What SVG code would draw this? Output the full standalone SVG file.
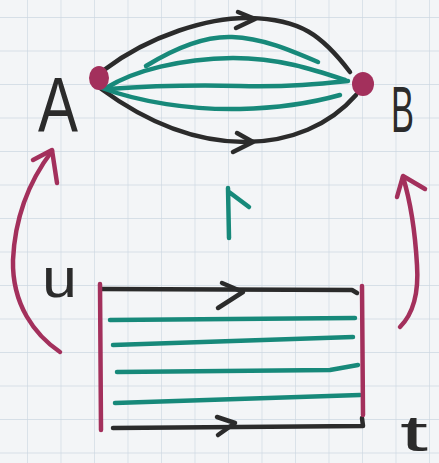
<svg xmlns="http://www.w3.org/2000/svg" width="439" height="463" viewBox="0 0 439 463">
<defs>
<style>
.grid{stroke:#cdd7e2;stroke-width:1.3;fill:none}
.blk{stroke:#2b2b2b;stroke-width:4.5;fill:none;stroke-linecap:round;stroke-linejoin:round}
.teal{stroke:#17897a;stroke-width:4.5;fill:none;stroke-linecap:round;stroke-linejoin:round}
.mag{stroke:#a3305c;stroke-width:4.5;fill:none;stroke-linecap:round;stroke-linejoin:round}
.lbl{font-family:"Liberation Sans","DejaVu Sans",sans-serif;fill:#2b2b2b}
.dot{fill:#a3305c}
</style>
<pattern id="gp" x="27" y="17" width="33.5" height="33.5" patternUnits="userSpaceOnUse">
<path class="grid" d="M0,0 V33.5 M0,0 H33.5"/>
</pattern>
</defs>
<rect width="439" height="463" fill="#f3f5f7"/>
<rect width="439" height="463" fill="url(#gp)"/>

<g id="connectors">
<path class="blk" d="M104,70 C150,35 210,17 250,18 C300,19 322,35 350,72"/>
<path class="blk" d="M238,12 L255,19 L236,28"/>
<path class="blk" d="M100,88 C150,125 200,142 245,142 C290,142 330,125 356,95"/>
<path class="blk" d="M237,133 L253,142 L233,152"/>
<path class="teal" d="M146,66 C175,48 205,36 232,37 C262,38 290,50 318,62"/>
<path class="teal" d="M106,88 C135,70 180,59 233,58 C280,58 315,70 345,80"/>
<path class="teal" d="M108,89 C150,86 200,85 240,86 C290,87 320,84 348,81"/>
<path class="teal" d="M102,88 C140,102 190,110 240,109 C285,108 315,102 340,95"/>
<path class="teal" d="M228,188 L229,238 M229,192 L249,207"/>
<path class="mag" d="M52,151 C30,180 15,215 13,260 C12,305 35,335 60,352"/>
<path class="mag" d="M33,160 L52,150 L57,183"/>
<path class="mag" d="M403,177 C410,200 415,230 417,265 C419,295 412,315 400,327"/>
<path class="mag" d="M397,197 L403,176 L425,189"/>
</g>

<g id="node-A">
<ellipse class="dot" cx="99" cy="78" rx="10" ry="12"/>
<text class="lbl" x="38" y="132" font-size="78" textLength="40" lengthAdjust="spacingAndGlyphs">A</text>
</g>

<g id="node-B">
<ellipse class="dot" cx="363" cy="84" rx="11" ry="12"/>
<text class="lbl" x="391" y="132" font-size="65" textLength="23" lengthAdjust="spacingAndGlyphs">B</text>
</g>

<g id="node-square">
<path class="blk" d="M102,289 L352,290 L357,293"/>
<path class="blk" d="M222,283 L243,292 L218,308"/>
<path class="blk" d="M113,428 L363,426 L362,418"/>
<path class="blk" d="M217,417 L235,423 L218,435"/>
<path class="teal" d="M110,320 L355,318"/>
<path class="teal" d="M113,345 L353,337"/>
<path class="teal" d="M117,372 L330,370 L358,365"/>
<path class="teal" d="M115,403 L360,395"/>
<path class="mag" d="M100,284 L101,430" stroke-width="6"/>
<path class="mag" d="M362,286 L363,415" stroke-width="6"/>
</g>

<g id="label-u">
<text class="lbl" x="42" y="297" font-size="56" textLength="35" lengthAdjust="spacingAndGlyphs">u</text>
</g>

<g id="label-t">
<text class="lbl" x="400" y="451" font-size="50" textLength="28" lengthAdjust="spacingAndGlyphs">t</text>
</g>
</svg>
